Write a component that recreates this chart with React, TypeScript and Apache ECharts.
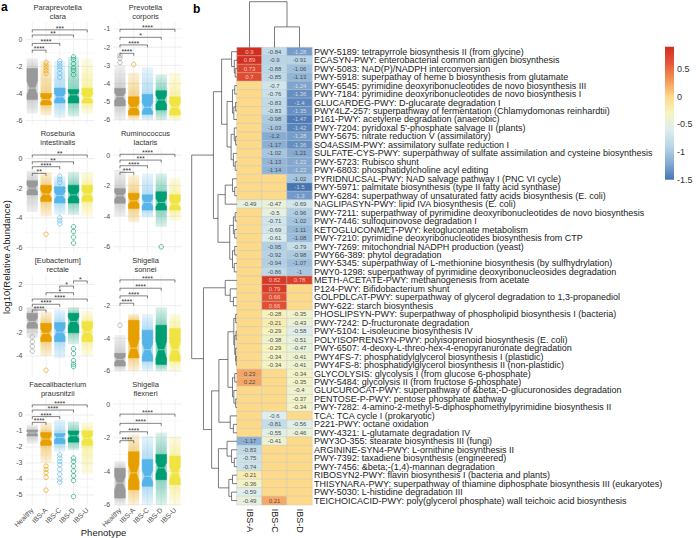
import React, { useEffect, useRef } from 'react';
import * as echarts from 'echarts';

const FONT = "'Liberation Sans', Arial, Helvetica, sans-serif";

// ---------------- Panel a data ----------------
const GROUPS = ['Healthy', 'IBS-A', 'IBS-C', 'IBS-D', 'IBS-U'];
const GROUP_COLORS = ['#999999', '#E69F00', '#56B4E9', '#009E73', '#F0E442'];

const TAXA = [
  'Paraprevotella\nclara', 'Prevotella\ncorporis',
  'Roseburia\nintestinalis', 'Ruminococcus\nlactaris',
  '[Eubacterium]\nrectale', 'Shigella\nsonnei',
  'Faecalibacterium\nprausnitzii', 'Shigella\nflexneri',
];

// each row: [lowest point, Q1, median, Q3, highest point] per phenotype
const paraprevotellaBoxes = [
  [-5.5, -4.45, -3.6, -2.15, -1.4],
  [-5.6, -4.85, -4.45, -4.0, -1.6],
  [-5.8, -4.7, -4.25, -3.6, -1.6],
  [-5.7, -4.7, -4.1, -3.7, -1.3],
  [-5.5, -4.7, -4.3, -3.6, -1.4],
];
const paraprevotellaOutliers = [[1, -1.7], [1, -1.9], [1, -2.1], [1, -2.3], [1, -2.5], [2, -1.6], [2, -1.8], [2, -2.0], [2, -2.2], [2, -2.5], [2, -2.8], [3, -1.3], [3, -1.5], [3, -1.8], [3, -2.1], [3, -2.3], [3, -2.6]];
const paraprevotellaSig = [[0, 1, -0.8, '****'], [0, 2, -0.3, '****'], [0, 3, 0.32, '**'], [0, 4, 0.7, '***']];
const paraprevotellaTicks = [0, -2, -4, -6];

const prevotellaBoxes = [
  [-6.0, -5.23, -4.72, -4.26, -3.0],
  [-6.0, -5.73, -5.3, -4.72, -3.4],
  [-6.0, -5.69, -5.3, -4.59, -3.1],
  [-6.0, -5.45, -4.9, -4.39, -3.5],
  [-6.0, -5.73, -5.3, -4.72, -3.4],
];
const prevotellaOutliers = [[0, -2.45], [0, -2.6], [0, -2.85], [1, -2.95]];
const prevotellaSig = [[0, 1, -2.34, '****'], [0, 2, -1.88, '****'], [0, 3, -1.46, '*'], [0, 4, -1.02, '****']];
const prevotellaTicks = [-1, -2, -3, -4, -5, -6];

const roseburiaBoxes = [
  [-3.6, -2.45, -2.0, -1.5, -0.8],
  [-3.9, -2.9, -2.4, -1.8, -0.9],
  [-3.8, -3.0, -2.5, -1.9, -1.2],
  [-3.8, -3.0, -2.45, -1.8, -0.9],
  [-3.9, -2.9, -2.4, -1.8, -0.9],
];
const roseburiaOutliers = [[1, -5.1], [2, -1.2], [2, -1.4], [2, -1.6], [2, -4.0], [2, -4.2], [2, -4.4], [3, -4.6], [3, -4.9], [3, -5.3], [3, -5.7]];
const roseburiaSig = [[0, 1, -1.0, '**'], [0, 2, -0.55, '****'], [0, 3, -0.22, '**'], [0, 4, 0.24, '**']];
const roseburiaTicks = [0, -2, -4, -6];

const ruminococcusBoxes = [
  [-4.0, -3.16, -2.66, -2.18, -0.98],
  [-4.4, -3.49, -3.0, -2.5, -1.3],
  [-4.1, -3.6, -3.1, -2.6, -1.2],
  [-4.7, -3.6, -3.1, -2.4, -1.2],
  [-4.3, -3.6, -3.2, -2.6, -1.5],
];
const ruminococcusOutliers = [[3, -6.0]];
const ruminococcusSig = [[0, 1, -1.13, '***'], [0, 2, -0.7, '****'], [0, 3, -0.33, '***'], [0, 4, 0.05, '****']];
const ruminococcusTicks = [0, -2, -4, -6];

const eubacteriumBoxes = [
  [-2.5, -1.68, -1.1, -0.42, 0.13],
  [-4.0, -2.8, -2.1, -1.26, -0.3],
  [-4.2, -2.8, -2.0, -1.2, -0.1],
  [-3.0, -2.05, -1.1, -0.42, 0.1],
  [-4.0, -2.8, -2.0, -1.1, -0.2],
];
const eubacteriumOutliers = [[0, -2.4], [0, -2.8], [0, -3.2], [0, -3.6], [1, -5.2], [3, -3.4], [3, -3.8], [3, -4.4], [3, -4.7], [3, -4.9]];
const eubacteriumSig = [[0, 1, -0.14, '****'], [0, 2, 0.34, '****'], [0, 4, 0.78, '****'], [1, 3, 1.31, '*'], [2, 3, 1.87, '*'], [3, 4, 2.3, '*']];
const eubacteriumTicks = [2, 0, -2, -4];

const sonneiBoxes = [
  [-6.0, -5.7, -5.29, -4.92, -3.8],
  [-6.0, -5.2, -4.6, -2.9, -2.5],
  [-6.0, -5.4, -4.7, -3.5, -2.5],
  [-6.0, -5.6, -4.7, -3.2, -2.1],
  [-6.0, -5.4, -4.7, -3.4, -2.5],
];
const sonneiOutliers = [[0, -3.2]];
const sonneiSig = [[0, 1, -1.85, '****'], [0, 2, -1.4, '****'], [0, 3, -0.93, '****'], [0, 4, -0.42, '****']];
const sonneiTicks = [-2, -4, -6];

const faecalibacteriumBoxes = [
  [-1.8, -1.31, -1.12, -0.94, -0.6],
  [-3.0, -1.9, -1.5, -1.1, -0.5],
  [-2.3, -1.8, -1.4, -1.15, -0.3],
  [-2.2, -1.7, -1.3, -1.0, -0.4],
  [-3.7, -1.9, -1.45, -1.0, -0.5],
];
const faecalibacteriumOutliers = [[1, -3.2], [1, -3.4], [1, -3.6], [1, -3.9], [1, -4.7], [2, -2.5], [2, -2.7], [2, -2.9], [2, -3.1], [2, -3.4], [2, -3.7], [2, -4.0], [2, -4.2], [3, -2.7], [3, -2.9], [3, -3.2], [3, -3.5], [3, -3.8], [3, -4.1], [3, -5.1]];
const faecalibacteriumSig = [[0, 1, -0.46, '****'], [0, 2, -0.1, '****'], [0, 3, 0.31, '****'], [0, 4, 0.63, '****']];
const faecalibacteriumTicks = [0, -1, -2, -3, -4, -5];

const flexneriBoxes = [
  [-6.0, -5.6, -4.7, -3.83, -3.4],
  [-6.0, -5.1, -4.1, -2.84, -1.8],
  [-6.0, -4.9, -4.3, -3.3, -1.9],
  [-6.0, -4.5, -3.8, -3.0, -1.7],
  [-6.0, -4.8, -4.1, -3.1, -1.9],
];
const flexneriOutliers: number[][] = [];
const flexneriSig = [[0, 1, -2.18, '****'], [0, 2, -1.65, '****'], [0, 3, -1.15, '****'], [0, 4, -0.6, '****']];
const flexneriTicks = [0, -2, -4, -6];

// y extents of each small panel
const Y_RANGES = [
  [-6.25, 1.28], [-6.22, -0.62],
  [-6.3, 0.71], [-6.34, 0.46],
  [-5.77, 2.8], [-6.37, -0.12],
  [-5.69, 1.0], [-6.07, 0.3],
];

const PANELS = [
  { boxes: paraprevotellaBoxes, outliers: paraprevotellaOutliers, sig: paraprevotellaSig, ticks: paraprevotellaTicks },
  { boxes: prevotellaBoxes, outliers: prevotellaOutliers, sig: prevotellaSig, ticks: prevotellaTicks },
  { boxes: roseburiaBoxes, outliers: roseburiaOutliers, sig: roseburiaSig, ticks: roseburiaTicks },
  { boxes: ruminococcusBoxes, outliers: ruminococcusOutliers, sig: ruminococcusSig, ticks: ruminococcusTicks },
  { boxes: eubacteriumBoxes, outliers: eubacteriumOutliers, sig: eubacteriumSig, ticks: eubacteriumTicks },
  { boxes: sonneiBoxes, outliers: sonneiOutliers, sig: sonneiSig, ticks: sonneiTicks },
  { boxes: faecalibacteriumBoxes, outliers: faecalibacteriumOutliers, sig: faecalibacteriumSig, ticks: faecalibacteriumTicks },
  { boxes: flexneriBoxes, outliers: flexneriOutliers, sig: flexneriSig, ticks: flexneriTicks },
];

// ---------------- Panel b data ----------------
const PHENO_COLS = ['IBS-A', 'IBS-C', 'IBS-D'];
const PATHWAYS = [
  'PWY-5189: tetrapyrrole biosynthesis II (from glycine)',
  'ECASYN-PWY: enterobacterial common antigen biosynthesis',
  'PWY-5083: NAD(P)/NADPH interconversion',
  'PWY-5918: superpathay of heme b biosynthesis from glutamate',
  'PWY-6545: pyrimidine deoxyribonucleotides de novo biosynthesis III',
  'PWY-7184: pyrimidine deoxyribonucleotides de novo biosynthesis I',
  'GLUCARDEG-PWY: D-glucarate degradation I',
  'PWY4LZ-257: superpathway of fermentation (Chlamydomonas reinhardtii)',
  'P161-PWY: acetylene degradation (anaerobic)',
  "PWY-7204: pyridoxal 5'-phosphate salvage II (plants)",
  'PWY-5675: nitrate reduction V (assimilatory)',
  'SO4ASSIM-PWY: assimilatory sulfate reduction I',
  'SULFATE-CYS-PWY: superpathway of sulfate assimilation and cysteine biosynthesis',
  'PWY-5723: Rubisco shunt',
  'PWY-6803: phosphatidylcholine acyl editing',
  'PYRIDNUCSAL-PWY: NAD salvage pathway I (PNC VI cycle)',
  'PWY-5971: palmitate biosynthesis (type II fatty acid synthase)',
  'PWY-6284: superpathway of unsaturated fatty acids biosynthesis (E. coli)',
  'NAGLIPASYN-PWY: lipid IVA biosynthesis (E. coli)',
  'PWY-7211: superpathway of pyrimidine deoxyribonucleotides de novo biosynthesis',
  'PWY-7446: sulfoquinovose degradation I',
  'KETOGLUCONMET-PWY: ketogluconate metabolism',
  'PWY-7210: pyrimidine deoxyribonucleotides biosynthesis from CTP',
  'PWY-7269: mitochondrial NADPH production (yeast)',
  'PWY66-389: phytol degradation',
  'PWY-5345: superpathway of L-methionine biosynthesis (by sulfhydrylation)',
  'PWY0-1298: superpathway of pyrimidine deoxyribonucleosides degradation',
  'METH-ACETATE-PWY: methanogenesis from acetate',
  'P124-PWY: Bifidobacterium shunt',
  'GOLPDLCAT-PWY: superpathway of glycerol degradation to 1,3-propanediol',
  'PWY-622: starch biosynthesis',
  'PHOSLIPSYN-PWY: superpathway of phospholipid biosynthesis I (bacteria)',
  'PWY-7242: D-fructuronate degradation',
  'PWY-5104: L-isoleucine biosynthesis IV',
  'POLYISOPRENSYN-PWY: polyisoprenoid biosynthesis (E. coli)',
  'PWY-6507: 4-deoxy-L-threo-hex-4-enopyranuronate degradation',
  'PWY4FS-7: phosphatidylglycerol biosynthesis I (plastidic)',
  'PWY4FS-8: phosphatidylglycerol biosynthesis II (non-plastidic)',
  'GLYCOLYSIS: glycolysis I (from glucose 6-phosphate)',
  'PWY-5484: glycolysis II (from fructose 6-phosphate)',
  'GLUCUROCAT-PWY: superpathway of &beta;-D-glucuronosides degradation',
  'PENTOSE-P-PWY: pentose phosphate pathway',
  'PWY-7282: 4-amino-2-methyl-5-diphosphomethylpyrimidine biosynthesis II',
  'TCA: TCA cycle I (prokaryotic)',
  'P221-PWY: octane oxidation',
  'PWY-4321: L-glutamate degradation IV',
  'PWY3O-355: stearate biosynthesis III (fungi)',
  'ARGININE-SYN4-PWY: L-ornithine biosynthesis II',
  'PWY-7392: taxadiene biosynthesis (engineered)',
  'PWY-7456: &beta;-(1,4)-mannan degradation',
  'RIBOSYN2-PWY: flavin biosynthesis I (bacteria and plants)',
  'THISYNARA-PWY: superpathway of thiamine diphosphate biosynthesis III (eukaryotes)',
  'PWY-5030: L-histidine degradation III',
  'TEICHOICACID-PWY: poly(glycerol phosphate) wall teichoic acid biosynthesis',
];
const NA = null;
const IBS_A_VALUES = [
  0.9, 0.89, 0.73, 0.7, NA, NA, NA, NA, NA, NA,
  NA, NA, NA, NA, NA, NA, NA, NA, -0.49, NA,
  NA, NA, NA, NA, NA, NA, NA, NA, NA, NA,
  NA, NA, NA, NA, NA, NA, NA, NA, 0.23, 0.22,
  NA, NA, NA, NA, NA, NA, -1.17, -0.83, -0.75, -0.74,
  -0.21, -0.36, -0.59, -0.49,
];
const IBS_C_VALUES = [
  -0.84, -0.9, -0.88, -0.85, -0.7, -0.76, -0.83, -0.83, -0.98, -1.03,
  -1.2, -1.17, -1.02, -1.13, -1.14, NA, NA, NA, -0.47, -0.5,
  -0.71, -0.69, -0.61, -0.95, -0.92, -0.94, -0.86, 0.82, 0.79, 0.66,
  0.66, -0.28, -0.21, -0.29, -0.38, -0.29, -0.34, -0.34, NA, NA,
  NA, NA, NA, -0.6, -0.81, -0.55, -0.41, NA, NA, NA,
  NA, NA, NA, 0.21,
];
const IBS_D_VALUES = [
  -1.28, -0.91, -1.06, -1.13, -1.24, -1.36, -1.4, -1.35, -1.47, -1.42,
  -1.28, -1.36, -1.21, -1.22, -1.22, -1.02, -1.5, -1.3, -0.69, -0.96,
  -1.02, -1.11, -1.08, -0.79, -0.98, -1.07, -1, 0.78, NA, NA,
  NA, -0.35, -0.43, -0.58, -0.51, -0.47, -0.41, -0.41, -0.34, -0.35,
  -0.4, -0.37, -0.34, NA, -0.56, -0.46, NA, NA, NA, NA,
  NA, NA, NA, NA,
];

// hierarchical clustering of rows: [height, left, right] or leaf index
const ROW_TREE: any = [1,
  [0.52,
    [0.34,
      [0.12, 0, [0.06, 1, [0.04, 2, 3]]],
      [0.22, [0.1, [0.05, 4, 5], [0.07, [0.03, 6, 7], 8]], [0.13, [0.06, 9, [0.03, 10, 11]], [0.08, 12, [0.04, 13, 14]]]]],
    [0.42,
      [0.26, [0.1, 15, [0.05, 16, 17]], 18],
      [0.16, [0.08, [0.04, 19, 20], [0.05, 21, 22]], [0.1, [0.05, 23, 24], [0.06, 25, 26]]]]],
  [0.74,
    [0.26, 27, [0.15, 28, [0.08, 29, 30]]],
    [0.56,
      [0.4,
        [0.2,
          [0.07, [0.03, 31, 32], [0.05, [0.02, 33, 34], [0.03, 35, [0.02, 36, 37]]]],
          [0.1, [0.05, 38, 39], [0.07, 40, [0.03, 41, 42]]]],
        [0.15, 43, [0.08, 44, 45]]],
      [0.41,
        [0.22, 46, [0.12, 47, [0.06, 48, 49]]],
        [0.18, [0.1, 50, 51], [0.12, 52, 53]]]]]];
const COL_TREE: any = [1, 0, [0.45, 1, 2]];

const HEAT_MIN = -1.5;
const HEAT_MAX = 0.9;
const HEAT_COLORS = ['#4575B4', '#86ACD3', '#B9D6E8', '#DDEEEE', '#F6F4C0', '#FDD98A', '#F29556', '#E5583A', '#D22E20'];

// ---------------- layout ----------------
const PANEL_LEFT = [25.4, 113.1];
const PANEL_WIDTH = 68.75;
const ROW_TOP = [22, 148, 275, 399];
const ROW_BOTTOM = [124, 252, 377, 506];

function rgba(hex: string, a: number) {
  const n = parseInt(hex.slice(1), 16);
  return `rgba(${(n >> 16) & 255},${(n >> 8) & 255},${n & 255},${a})`;
}
function clamp01(v: number) { return Math.max(0, Math.min(1, v)); }

function dendro(node: any, out: number[][]): { pos: number; h: number } {
  if (typeof node === 'number') return { pos: node, h: 0 };
  const [h, a, b] = node;
  const la = dendro(a, out);
  const lb = dendro(b, out);
  out.push([la.h, la.pos, h, la.pos]);
  out.push([lb.h, lb.pos, h, lb.pos]);
  out.push([h, la.pos, h, lb.pos]);
  return { pos: (la.pos + lb.pos) / 2, h };
}

function buildOption() {
  const grid: any[] = [];
  const xAxis: any[] = [];
  const yAxis: any[] = [];
  const series: any[] = [];
  const graphic: any[] = [];

  PANELS.forEach((p, i) => {
    const col = i % 2;
    const row = Math.floor(i / 2);
    grid.push({ left: PANEL_LEFT[col], top: ROW_TOP[row], width: PANEL_WIDTH, height: ROW_BOTTOM[row] - ROW_TOP[row] });
    xAxis.push({
      type: 'category', gridIndex: i, data: GROUPS,
      axisLine: { show: false }, axisTick: { show: false }, splitLine: { show: false },
      axisLabel: row === 3
        ? { show: true, rotate: 45, interval: 0, fontSize: 7, color: '#4d4d4d', margin: 3, fontFamily: FONT }
        : { show: false },
    });
    yAxis.push({ type: 'value', gridIndex: i, min: Y_RANGES[i][0], max: Y_RANGES[i][1], show: false });

    const ticks = p.ticks;
    series.push({
      type: 'custom', xAxisIndex: i, yAxisIndex: i, z: 0, silent: true,
      data: ticks.map((t) => [0, t]), encode: { x: 0, y: 1 },
      renderItem: (params: any, api: any) => {
        const cs = params.coordSys;
        const t = api.value(1);
        const y = api.coord([0, t])[1];
        const k = params.dataIndex;
        const children: any[] = [
          { type: 'line', shape: { x1: cs.x, y1: y, x2: cs.x + cs.width, y2: y }, style: { stroke: '#e2e2e2', lineWidth: 0.6 } },
          { type: 'text', x: cs.x - 3, y, style: { text: String(t), align: 'right', verticalAlign: 'middle', fontSize: 7, fontFamily: FONT, fill: '#4d4d4d' } },
        ];
        if (k < ticks.length - 1) {
          const ym = api.coord([0, (t + ticks[k + 1]) / 2])[1];
          children.push({ type: 'line', shape: { x1: cs.x, y1: ym, x2: cs.x + cs.width, y2: ym }, style: { stroke: '#f0f0f0', lineWidth: 0.5 } });
        }
        if (k === 0) {
          for (let g = 0; g < GROUPS.length; g++) {
            const x = api.coord([g, t])[0];
            children.push({ type: 'line', shape: { x1: x, y1: cs.y, x2: x, y2: cs.y + cs.height }, style: { stroke: '#e8e8e8', lineWidth: 0.6 } });
          }
        }
        return { type: 'group', children };
      },
    });

    series.push({
      type: 'custom', xAxisIndex: i, yAxisIndex: i, z: 2, silent: true,
      data: p.boxes.map((b, g) => [g, ...b]), encode: { x: 0, y: [1, 2, 3, 4, 5] },
      renderItem: (params: any, api: any) => {
        const g = api.value(0);
        const color = GROUP_COLORS[g];
        const bw = api.size([1, 0])[0];
        const cx = api.coord([g, api.value(3)])[0];
        const yLo = api.coord([g, api.value(1)])[1];
        const yQ1 = api.coord([g, api.value(2)])[1];
        const yMed = api.coord([g, api.value(3)])[1];
        const yQ3 = api.coord([g, api.value(4)])[1];
        const yHi = api.coord([g, api.value(5)])[1];
        const half = bw * 0.39;
        const cHalf = bw * 0.4;
        const notch = (yQ1 - yQ3) * 0.22;
        const H = Math.max(yLo - yHi, 1);
        const o1 = clamp01((yQ3 - yHi) / H);
        const o2 = Math.max(o1, clamp01((yQ1 - yHi) / H));
        const fill = new echarts.graphic.LinearGradient(0, 0, 0, 1, [
          { offset: 0, color: rgba(color, 0.14) },
          { offset: o1, color: rgba(color, 0.45) },
          { offset: o2, color: rgba(color, 0.45) },
          { offset: 1, color: rgba(color, 0.14) },
        ]);
        return {
          type: 'group',
          children: [
            { type: 'rect', shape: { x: cx - cHalf, y: yHi, width: cHalf * 2, height: H }, style: { fill } },
            {
              type: 'polygon',
              shape: {
                points: [
                  [cx - half, yQ3], [cx + half, yQ3], [cx + half, yMed - notch], [cx + half / 2, yMed],
                  [cx + half, yMed + notch], [cx + half, yQ1], [cx - half, yQ1], [cx - half, yMed + notch],
                  [cx - half / 2, yMed], [cx - half, yMed - notch],
                ],
              },
              style: { fill: color, stroke: color, lineWidth: 0.5 },
            },
            { type: 'line', shape: { x1: cx - half / 2, y1: yMed, x2: cx + half / 2, y2: yMed }, style: { stroke: 'rgba(255,255,255,0.55)', lineWidth: 0.8 } },
          ],
        };
      },
    });

    series.push({
      type: 'scatter', xAxisIndex: i, yAxisIndex: i, z: 3, silent: true,
      symbol: 'circle', symbolSize: 4.5,
      data: p.outliers.map((o) => ({ value: o, itemStyle: { color: 'rgba(0,0,0,0)', borderColor: GROUP_COLORS[o[0]], borderWidth: 0.8 } })),
    });

    const sig = p.sig;
    series.push({
      type: 'custom', xAxisIndex: i, yAxisIndex: i, z: 4, silent: true,
      data: sig.map((s) => [s[0], s[2], s[1]]), encode: { x: [0, 2], y: 1 },
      renderItem: (params: any, api: any) => {
        const s: any = sig[params.dataIndex];
        const p1 = api.coord([s[0], s[2]]);
        const p2 = api.coord([s[1], s[2]]);
        const tk = 2.5;
        return {
          type: 'group',
          children: [
            { type: 'polyline', shape: { points: [[p1[0], p1[1] + tk], [p1[0], p1[1]], [p2[0], p2[1]], [p2[0], p2[1] + tk]] }, style: { stroke: '#333', lineWidth: 0.6, fill: 'none' } },
            { type: 'text', x: (p1[0] + p2[0]) / 2, y: p1[1] + 2, style: { text: s[3], align: 'center', verticalAlign: 'bottom', fontSize: 7, fontFamily: FONT, fill: '#333' } },
          ],
        };
      },
    });

    graphic.push({
      type: 'text', x: PANEL_LEFT[col] + PANEL_WIDTH / 2 - 2, y: ROW_TOP[row] - 19,
      style: { text: TAXA[i], align: 'center', verticalAlign: 'top', fontSize: 7.5, lineHeight: 9, fontFamily: FONT, fill: '#333' },
    });
  });

  // ---- heatmap ----
  const HM = 8;
  grid.push({ left: 237, top: 47.5, width: 75, height: 457.3 });
  xAxis.push({
    type: 'category', gridIndex: HM, data: PHENO_COLS, position: 'bottom',
    axisLine: { show: false }, axisTick: { show: false }, splitLine: { show: false },
    axisLabel: { rotate: -90, interval: 0, fontSize: 9, color: '#222', margin: 4, fontFamily: FONT },
  });
  yAxis.push({
    type: 'category', gridIndex: HM, data: PATHWAYS, inverse: true, position: 'right',
    axisLine: { show: false }, axisTick: { show: false }, splitLine: { show: false },
    axisLabel: { interval: 0, fontSize: 9, lineHeight: 8, color: '#222', margin: 2, fontFamily: FONT },
  });
  const cols = [IBS_A_VALUES, IBS_C_VALUES, IBS_D_VALUES];
  const cells: any[] = [];
  cols.forEach((vals, c) => {
    vals.forEach((v, r) => {
      const light = v != null && (v >= 0.6 || v <= -1.22);
      cells.push({
        value: [c, r, v == null ? 0 : v], raw: v,
        label: { show: v != null, color: light ? 'rgba(255,235,225,0.75)' : '#505050' },
      });
    });
  });
  const heatIndex = series.length;
  series.push({
    type: 'heatmap', xAxisIndex: HM, yAxisIndex: HM, data: cells,
    itemStyle: { borderColor: '#c8c8c8', borderWidth: 0.5 },
    label: { show: true, fontSize: 6, fontFamily: FONT, formatter: (p: any) => (p.data.raw == null ? '' : String(p.data.raw)) },
    emphasis: { disabled: true }, silent: true,
  });

  // ---- row dendrogram ----
  const RD = 9;
  grid.push({ left: 191.7, top: 47.5, width: 45.3, height: 457.3 });
  xAxis.push({ type: 'value', gridIndex: RD, min: 0, max: 1, inverse: true, show: false });
  yAxis.push({ type: 'value', gridIndex: RD, min: -0.5, max: PATHWAYS.length - 0.5, inverse: true, show: false });
  const rowSegs: number[][] = [];
  dendro(ROW_TREE, rowSegs);
  const segRender = (params: any, api: any) => {
    const a = api.coord([api.value(0), api.value(1)]);
    const b = api.coord([api.value(2), api.value(3)]);
    return { type: 'line', shape: { x1: a[0], y1: a[1], x2: b[0], y2: b[1] }, style: { stroke: '#444', lineWidth: 0.7 } };
  };
  series.push({ type: 'custom', xAxisIndex: RD, yAxisIndex: RD, silent: true, data: rowSegs, encode: { x: [0, 2], y: [1, 3] }, renderItem: segRender });

  // ---- column dendrogram ----
  const CD = 10;
  grid.push({ left: 237, top: 1.7, width: 75, height: 45.8 });
  xAxis.push({ type: 'value', gridIndex: CD, min: -0.5, max: 2.5, show: false });
  yAxis.push({ type: 'value', gridIndex: CD, min: 0, max: 1, show: false });
  const colSegsRaw: number[][] = [];
  dendro(COL_TREE, colSegsRaw);
  const colSegs = colSegsRaw.map((s) => [s[1], s[0], s[3], s[2]]);
  series.push({ type: 'custom', xAxisIndex: CD, yAxisIndex: CD, silent: true, data: colSegs, encode: { x: [0, 2], y: [1, 3] }, renderItem: segRender });

  // ---- colour bar ----
  const CB = 11;
  grid.push({ left: 665, top: 46.7, width: 9, height: 133 });
  xAxis.push({ type: 'value', gridIndex: CB, min: 0, max: 1, show: false });
  yAxis.push({
    type: 'value', gridIndex: CB, min: HEAT_MIN, max: HEAT_MAX, interval: 0.5, position: 'right',
    axisLine: { show: false }, axisTick: { show: false }, splitLine: { show: false },
    axisLabel: { fontSize: 9, color: '#333', margin: 3, fontFamily: FONT, showMaxLabel: false },
  });
  series.push({
    type: 'custom', xAxisIndex: CB, yAxisIndex: CB, silent: true, data: [[0.5, 0]], encode: { x: 0, y: 1 },
    renderItem: (params: any) => {
      const cs = params.coordSys;
      return {
        type: 'rect', shape: { x: cs.x, y: cs.y, width: cs.width, height: cs.height },
        style: { fill: new echarts.graphic.LinearGradient(0, 1, 0, 0, HEAT_COLORS.map((c, k) => ({ offset: k / (HEAT_COLORS.length - 1), color: c }))) },
      };
    },
  });

  graphic.push(
    { type: 'text', x: 1, y: 1, style: { text: 'a', fontSize: 12, fontWeight: 'bold', fontFamily: FONT, fill: '#000' } },
    { type: 'text', x: 193, y: 3, style: { text: 'b', fontSize: 12, fontWeight: 'bold', fontFamily: FONT, fill: '#000' } },
    { type: 'text', x: 103.5, y: 532.5, style: { text: 'Phenotype', align: 'center', verticalAlign: 'middle', fontSize: 9.5, fontFamily: FONT, fill: '#222' } },
    { type: 'text', x: 6, y: 257, rotation: Math.PI / 2, style: { text: 'log10(Relative Abundance)', align: 'center', verticalAlign: 'middle', fontSize: 9.5, fontFamily: FONT, fill: '#222' } },
  );

  return {
    animation: false,
    backgroundColor: '#ffffff',
    textStyle: { fontFamily: FONT },
    grid, xAxis, yAxis, series, graphic,
    visualMap: {
      show: false, type: 'continuous', seriesIndex: heatIndex, dimension: 2,
      min: HEAT_MIN, max: HEAT_MAX, inRange: { color: HEAT_COLORS },
    },
  };
}

export default function App() {
  const ref = useRef<HTMLDivElement>(null);
  useEffect(() => {
    if (!ref.current) return;
    const chart = echarts.init(ref.current, undefined, { renderer: 'svg' });
    chart.setOption(buildOption() as any);
    return () => chart.dispose();
  }, []);
  return <div ref={ref} style={{ position: 'fixed', left: 0, top: 0, width: 696, height: 538, background: '#fff' }} />;
}
